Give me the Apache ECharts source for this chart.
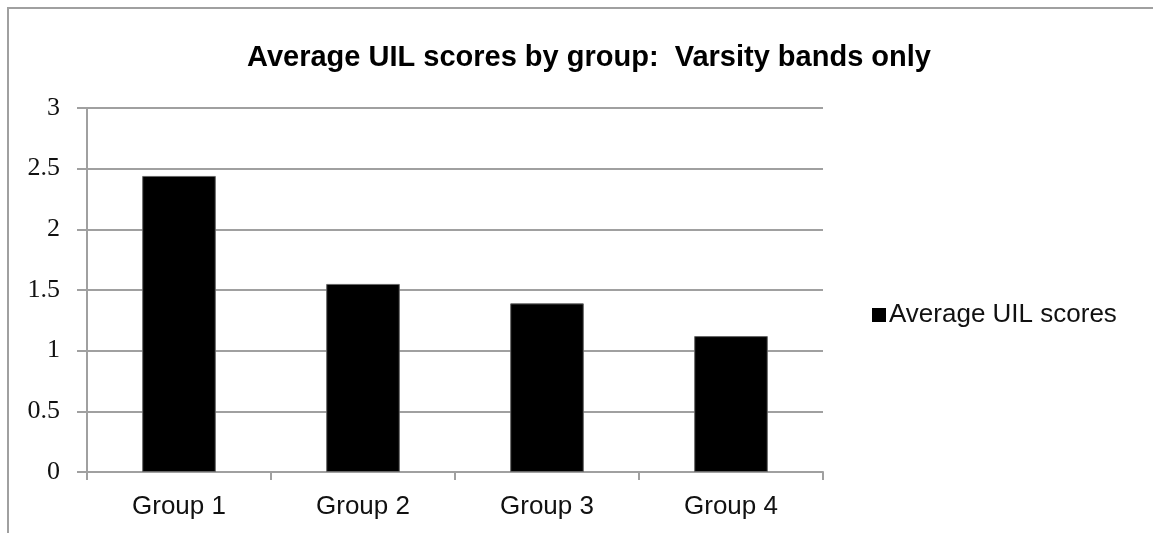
<!DOCTYPE html>
<html>
  <head>
    <meta charset="UTF-8" />
    <title>Average UIL scores</title>
    <script src="https://cdn.jsdelivr.net/npm/echarts@6/dist/echarts.min.js"></script>
    <style>
      body { margin: 0; background: #fff; }
    </style>
  </head>
  <body>
    <div id="chart" style="width: 1153px; height: 533px"></div>
  </body>
  <script>
    const categories = ['Group 1', 'Group 2', 'Group 3', 'Group 4'];
    const scores = [2.44, 1.55, 1.39, 1.12];
    const seriesName = 'Average UIL scores';

    let myChart = echarts.init(document.getElementById('chart'));

    myChart.setOption({
      animation: false,
      title: {
        text: 'Average UIL scores by group:  Varsity bands only',
        left: 584,
        textAlign: 'center',
        top: 38,
        textStyle: {
          fontFamily: 'Liberation Sans',
          fontSize: 29,
          fontWeight: 'bold',
          color: '#000'
        }
      },
      graphic: [{
        type: 'rect',
        shape: { x: 8, y: 8, width: 2000, height: 2000 },
        style: { fill: 'none', stroke: '#a0a0a0', lineWidth: 2 },
        silent: true
      }],
      legend: {
        data: [seriesName],
        left: 867,
        top: 297,
        icon: 'rect',
        itemWidth: 14,
        itemHeight: 14,
        itemGap: 4,
        itemStyle: { borderWidth: 0 },
        textStyle: {
          fontFamily: 'Liberation Sans',
          fontSize: 26,
          color: '#111',
          padding: [0, 0, 0, -2]
        }
      },
      grid: { left: 87, top: 108, right: 330, bottom: 61 },
      xAxis: {
        type: 'category',
        data: categories,
        axisLine: { lineStyle: { color: '#a0a0a0', width: 2 } },
        axisTick: { show: true, length: 8, lineStyle: { color: '#a0a0a0', width: 2 } },
        axisLabel: {
          fontFamily: 'Liberation Sans',
          fontSize: 26,
          color: '#111',
          margin: 22
        }
      },
      yAxis: {
        type: 'value',
        min: 0,
        max: 3,
        interval: 0.5,
        axisLine: { show: true, lineStyle: { color: '#a0a0a0', width: 2 } },
        axisTick: { show: true, length: 10, lineStyle: { color: '#a0a0a0', width: 2 } },
        splitLine: { lineStyle: { color: '#a0a0a0', width: 2 } },
        axisLabel: {
          fontFamily: 'Liberation Serif',
          fontSize: 26,
          color: '#111',
          margin: 27
        }
      },
      series: [{
        name: seriesName,
        type: 'bar',
        data: scores,
        barWidth: '40%',
        itemStyle: { color: '#000', borderColor: '#666', borderWidth: 1 }
      }]
    });
  </script>
</html>
